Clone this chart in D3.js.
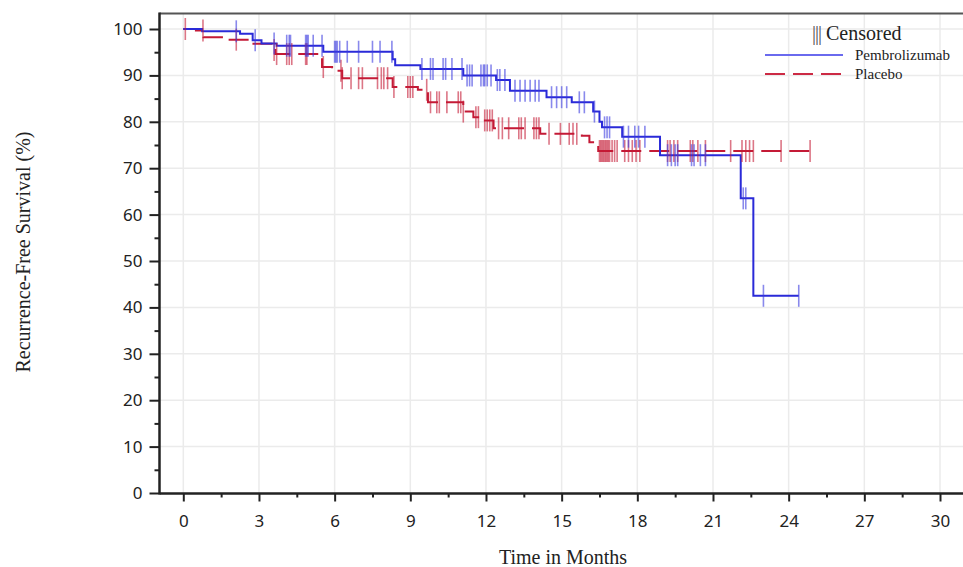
<!DOCTYPE html>
<html><head><meta charset="utf-8">
<script src="https://cdn.jsdelivr.net/npm/d3@7"></script>
<style>body{margin:0;background:#fff} svg{display:block}</style>
</head><body><svg id="chart" width="963" height="567"></svg>
<script>
// Axis ticks
const monthTicks = [0, 3, 6, 9, 12, 15, 18, 21, 24, 27, 30];
const monthMinor = [1.5, 4.5, 7.5, 10.5, 13.5, 16.5, 19.5, 22.5, 25.5, 28.5];
const survTicks = [0, 10, 20, 30, 40, 50, 60, 70, 80, 90, 100];
const survMinor = [5, 15, 25, 35, 45, 55, 65, 75, 85, 95];

// Kaplan-Meier steps: time of event (months) and survival (%) after it
const pembroTimes = [0, 0.75, 2.25, 2.75, 3.1, 3.7, 5.55, 8.3, 8.4, 9.4, 11.1, 12.4, 12.95, 14.4, 15.4, 16.25, 16.5, 16.6, 17.4, 18.9, 22.1, 22.6];
const pembroSurv  = [100, 99.5, 99.0, 97.6, 96.9, 96.4, 95.1, 93.5, 92.2, 91.4, 90.0, 89.0, 86.7, 85.3, 84.2, 82.2, 80.0, 78.8, 76.8, 72.8, 63.5, 42.5];
const pembroCensor = [2.1, 2.85, 3.6, 4.1, 4.2, 4.25, 4.85, 4.9, 4.95, 5.15, 5.5, 6.0, 6.05, 6.1, 6.2, 6.5, 6.95, 7.5, 7.8, 8.27,
  9.46, 9.8, 9.9, 10.3, 10.4, 10.65, 11.05, 11.25, 11.35, 11.45, 11.8, 11.9, 11.95, 12.05, 12.2, 12.45, 12.55, 12.75,
  13.15, 13.35, 13.55, 13.75, 13.95, 14.1, 14.6, 14.8, 15.0, 15.2, 15.7, 15.9, 16.3, 16.7, 16.8, 16.9,
  17.45, 17.65, 17.9, 18.05, 18.3, 19.2, 19.35, 19.5, 19.6, 20.15, 20.25, 20.5, 20.7, 22.2, 22.3, 23.0, 24.4];

const placeboTimes = [0, 0.5, 0.8, 1.75, 2.6, 3.55, 3.65, 5.4, 5.5, 5.9, 6.3, 8.3, 9.3, 9.7, 11.1, 11.5, 11.85, 12.3, 14.15, 15.8, 16.1, 16.45];
const placeboSurv  = [100, 99.7, 98.2, 97.7, 96.8, 95.5, 94.6, 93.9, 91.8, 91.0, 89.4, 87.5, 86.9, 84.2, 82.2, 81.0, 80.3, 78.6, 77.4, 77.0, 75.6, 73.7];
const placeboCensor = [0.08, 0.78, 2.1, 3.6, 3.7, 4.1, 4.2, 4.3, 4.85, 4.9, 5.55, 6.25, 6.3, 6.65, 6.95, 7.1, 7.7, 7.85, 7.95, 8.1, 8.35,
  8.9, 9.0, 9.1, 9.65, 9.8, 10.05, 10.15, 10.45, 10.9, 11.0, 11.1, 11.6, 11.7, 11.95, 12.05, 12.15, 12.25, 12.5, 12.65, 12.9,
  13.3, 13.4, 13.55, 13.9, 14.0, 14.1, 14.5, 14.95, 15.3, 15.45, 15.6, 16.5, 16.55, 16.6, 16.65, 16.7, 16.75, 16.8, 16.85,
  16.9, 17.0, 17.1, 17.2, 17.5, 17.65, 17.8, 17.95, 18.1, 19.2, 19.3, 19.45, 19.6, 20.1, 20.2, 20.4, 20.7, 21.7,
  22.15, 22.3, 22.45, 22.6, 23.7, 24.85];

const groups = [
  {name: "Placebo", times: placeboTimes, surv: placeboSurv, censor: placeboCensor,
   line: "#c41a36", mark: "#c41a36", legendLine: "#cc2a44", dash: "20,8"},
  {name: "Pembrolizumab", times: pembroTimes, surv: pembroSurv, censor: pembroCensor,
   line: "#2a2ad8", mark: "#3a3ae0", legendLine: "#6a6aee", dash: null}
];

const svg = d3.select("#chart");
const x = d3.scaleLinear().domain([0, 30]).range([183.3, 940]);
const y = d3.scaleLinear().domain([0, 100]).range([493, 29]);
const plotLeft = 159.5, plotBottom = 493.5, plotTop = 13.5, plotRight = 963;

// grid
const grid = svg.append("g").attr("stroke", "#ebebeb").attr("stroke-width", 1.5);
grid.selectAll(".gx").data(monthTicks).join("line")
  .attr("x1", d => x(d)).attr("x2", d => x(d)).attr("y1", plotTop).attr("y2", plotBottom);
grid.selectAll(".gy").data(survTicks.slice(1)).join("line")
  .attr("x1", plotLeft).attr("x2", plotRight).attr("y1", d => y(d)).attr("y2", d => y(d));

// frame top
svg.append("line").attr("x1", plotLeft).attr("x2", plotRight).attr("y1", plotTop).attr("y2", plotTop)
  .attr("stroke", "#555").attr("stroke-width", 2.2);

// y axis
const yAxis = svg.append("g").attr("transform", `translate(${plotLeft},0)`)
  .call(d3.axisLeft(y).tickValues(survTicks).tickSize(10).tickPadding(7).tickFormat(d3.format("d")));
yAxis.select(".domain").remove();
yAxis.selectAll(".tick line").attr("stroke", "#222").attr("stroke-width", 2);
yAxis.selectAll("text").attr("font-family", "'Noto Sans', sans-serif").attr("font-size", 17).attr("fill", "#222");
svg.append("g").attr("transform", `translate(${plotLeft},0)`)
  .call(d3.axisLeft(y).tickValues(survMinor).tickSize(5).tickFormat(""))
  .call(g => g.select(".domain").remove())
  .selectAll(".tick line").attr("stroke", "#222").attr("stroke-width", 2);

// x axis
const xAxis = svg.append("g").attr("transform", `translate(0,${plotBottom})`)
  .call(d3.axisBottom(x).tickValues(monthTicks).tickSize(8).tickPadding(13).tickFormat(d3.format("d")));
xAxis.select(".domain").remove();
xAxis.selectAll(".tick line").attr("stroke", "#222").attr("stroke-width", 2);
xAxis.selectAll("text").attr("font-family", "'Noto Sans', sans-serif").attr("font-size", 17).attr("fill", "#222");
svg.append("g").attr("transform", `translate(0,${plotBottom})`)
  .call(d3.axisBottom(x).tickValues(monthMinor).tickSize(4).tickFormat(""))
  .call(g => g.select(".domain").remove())
  .selectAll(".tick line").attr("stroke", "#222").attr("stroke-width", 2);

// axis lines
svg.append("line").attr("x1", plotLeft).attr("x2", plotLeft).attr("y1", plotTop - 1).attr("y2", plotBottom + 1)
  .attr("stroke", "#222").attr("stroke-width", 2.5);
svg.append("line").attr("x1", plotLeft).attr("x2", plotRight).attr("y1", plotBottom).attr("y2", plotBottom)
  .attr("stroke", "#222").attr("stroke-width", 2.5);

// axis titles
svg.append("text").attr("x", 563).attr("y", 564).attr("text-anchor", "middle")
  .attr("font-family", "'Liberation Serif', serif").attr("font-size", 20).attr("fill", "#222")
  .text("Time in Months");
svg.append("text").attr("transform", "translate(30,252) rotate(-90)").attr("text-anchor", "middle")
  .attr("font-family", "'Liberation Serif', serif").attr("font-size", 20).attr("fill", "#222")
  .text("Recurrence-Free Survival (%)");

// curves
const survAt = (g, t) => {
  let s = g.surv[0];
  g.times.forEach((tt, i) => { if (tt <= t) s = g.surv[i]; });
  return s;
};
const line = d3.line().x(d => x(d[0])).y(d => y(d[1])).curve(d3.curveStepAfter);

groups.forEach(g => {
  const end = d3.max(g.censor);
  const pts = g.times.map((t, i) => [t, g.surv[i]]);
  pts.push([end, survAt(g, end)]);
  const path = svg.append("path").datum(pts).attr("d", line)
    .attr("fill", "none").attr("stroke", g.line).attr("stroke-width", 2);
  if (g.dash) path.attr("stroke-dasharray", g.dash);
});

groups.forEach(g => {
  svg.append("g").selectAll("line").data(g.censor).join("line")
    .attr("x1", d => x(d)).attr("x2", d => x(d))
    .attr("y1", d => y(survAt(g, d)) - 11).attr("y2", d => y(survAt(g, d)) + 11)
    .attr("stroke", g.mark).attr("stroke-width", 1.6).attr("stroke-opacity", 0.6);
});

// legend
const lg = svg.append("g").attr("font-family", "'Liberation Serif', serif").attr("fill", "#222");
const cens = lg.append("text").attr("x", 812).attr("y", 40).attr("font-size", 20).attr("fill", "#222");
cens.append("tspan").attr("letter-spacing", -1).attr("fill", "#555").text("|||");
cens.append("tspan").attr("dx", 5).text("Censored");
const legendRows = [groups[1], groups[0]];
legendRows.forEach((g, i) => {
  const yy = 55 + i * 19;
  const l = lg.append("line").attr("x1", 765).attr("x2", 843).attr("y1", yy).attr("y2", yy)
    .attr("stroke", g.legendLine).attr("stroke-width", 2);
  if (g.dash) l.attr("stroke-dasharray", g.dash);
  lg.append("text").attr("x", 855).attr("y", yy + 5).attr("font-size", 15).attr("fill", "#222").text(g.name);
});
</script></body></html>
